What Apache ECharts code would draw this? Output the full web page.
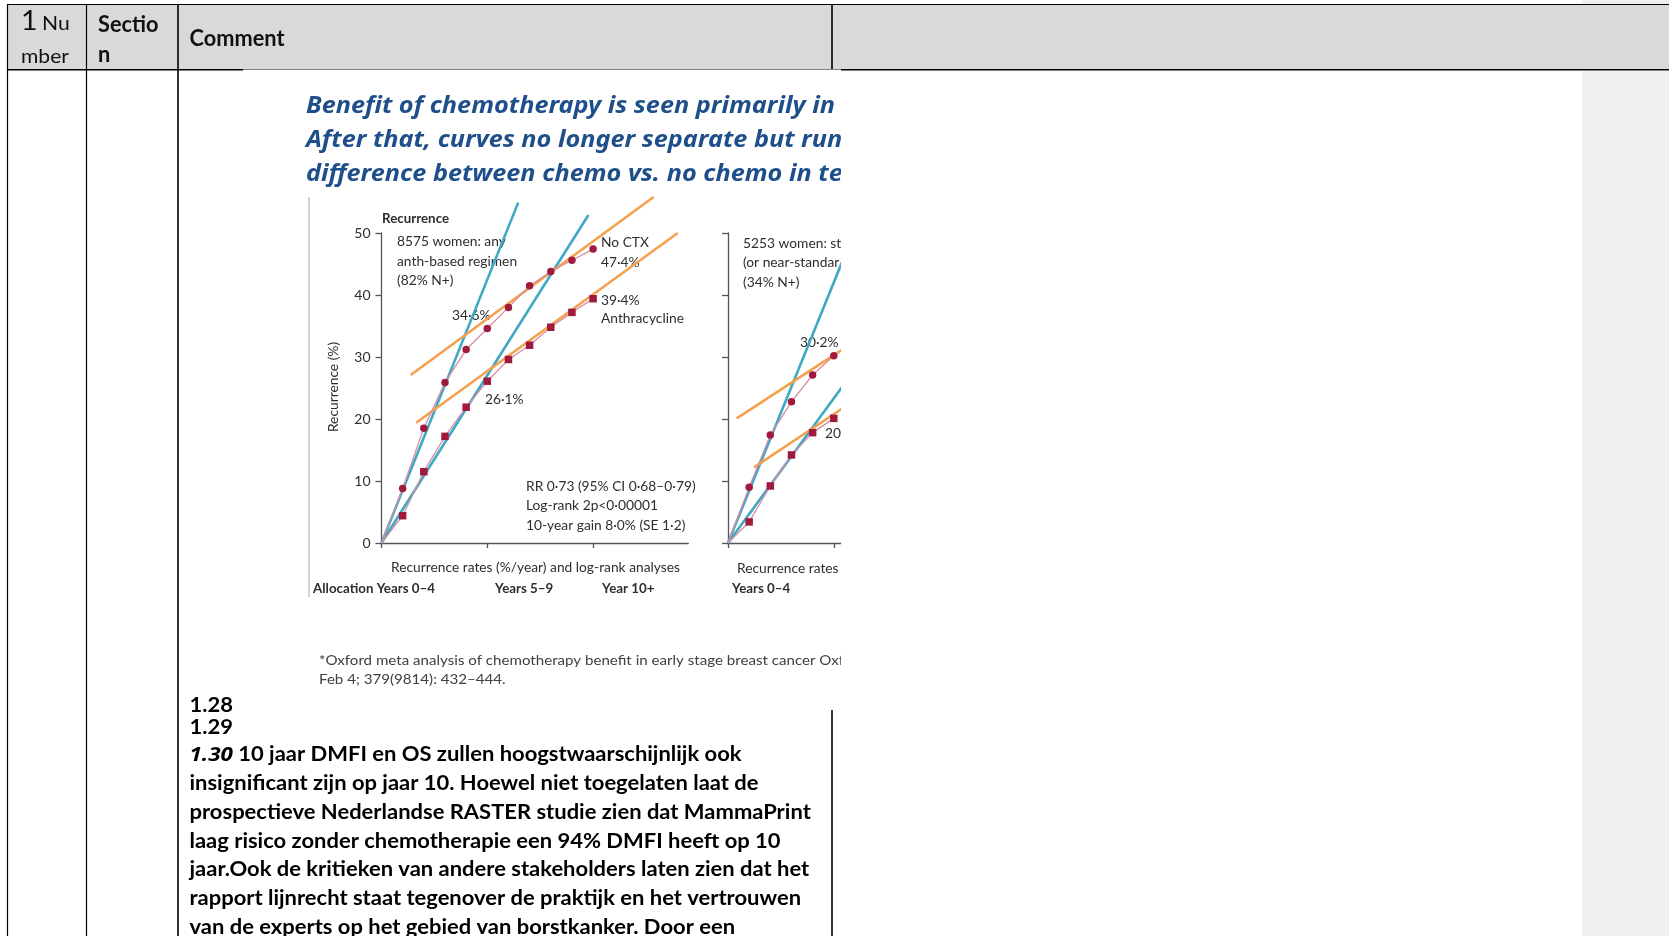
<!DOCTYPE html>
<html>
<head>
<meta charset="utf-8">
<script src="https://cdn.jsdelivr.net/npm/echarts@6/dist/echarts.min.js"></script>
<style>
  html, body { margin: 0; padding: 0; background: #ffffff; }
  #chart { width: 1669px; height: 936px; }
</style>
</head>
<body>
<div id="chart"></div>
<script>
// ---------------- data ----------------
// Recurrence (%) by year since allocation, any anthracycline-based regimen (8575 women)
const years = [0, 1, 2, 3, 4, 5, 6, 7, 8, 9, 10];
const noChemoRecurrence = [0, 8.8, 18.5, 25.9, 31.2, 34.6, 38.0, 41.5, 43.8, 45.6, 47.4];
const anthraRecurrence  = [0, 4.4, 11.5, 17.2, 21.9, 26.1, 29.6, 31.9, 34.8, 37.2, 39.4];

// Standard regimen panel (5253 women), visible part
const stdYears = [0, 1, 2, 3, 4, 5];
const stdNoChemoRecurrence = [0, 9.0, 17.4, 22.8, 27.1, 30.2];
const stdChemoRecurrence   = [0, 3.4, 9.2, 14.2, 17.8, 20.1];

// Rate lines [year, recurrence %]
const rateNoChemoEarly   = [[0, 0], [6.46, 54.9]];
const rateAnthraEarly    = [[0, 0], [9.78, 52.9]];
const rateNoChemoLate    = [[1.38, 27.1], [12.86, 55.8]];
const rateAnthraLate     = [[1.64, 19.4], [14.0, 50.0]];
const stdRateNoChemoEarly = [[0, 0], [5.4, 45.4]];
const stdRateChemoEarly   = [[0, 0], [5.4, 25.2]];
const stdRateNoChemoLate  = [[0.41, 20.1], [5.4, 31.2]];
const stdRateChemoLate    = [[1.23, 12.2], [5.4, 21.7]];

const xTickYears = [0, 5, 10];
const stdXTickYears = [0, 5];

// ---------------- texts ----------------
const headerNumber = ['1', 'Nu', 'mber'];
const headerSection = ['Sectio', 'n'];
const headerComment = 'Comment';
const titleLines = [
  'Benefit of chemotherapy is seen primarily in',
  'After that, curves no longer separate but run',
  'difference between chemo vs. no chemo in te'
];
const panelLabel = 'Recurrence';
const axisTitle = 'Recurrence (%)';
const cohortLines = ['8575 women: any', 'anth-based regimen', '(82% N+)'];
const stdCohortLines = ['5253 women: st', '(or near-standar', '(34% N+)'];
const noChemoLabel = ['No CTX', '47·4%'];
const anthraLabel = ['39·4%', 'Anthracycline'];
const midLabels = ['34·6%', '26·1%'];
const stdMidLabels = ['30·2%', '20·'];
const statsLines = ['RR 0·73 (95% CI 0·68–0·79)', 'Log-rank 2p<0·00001', '10-year gain 8·0% (SE 1·2)'];
const rateCaption = 'Recurrence rates (%/year) and log-rank analyses';
const stdRateCaption = 'Recurrence rates (';
const periodLabels = ['Allocation Years 0–4', 'Years 5–9', 'Year 10+'];
const stdPeriodLabel = 'Years 0–4';
const footnoteLines = [
  '*Oxford meta analysis of chemotherapy benefit in early stage breast cancer Oxf',
  'Feb 4; 379(9814): 432–444.'
];
const itemNumbers = ['1.28', '1.29', '1.30'];
const bodyLines = [
  ' 10 jaar DMFI en OS zullen hoogstwaarschijnlijk ook',
  'insignificant zijn op jaar 10. Hoewel niet toegelaten laat de',
  'prospectieve Nederlandse RASTER studie zien dat MammaPrint',
  'laag risico zonder chemotherapie een 94% DMFI heeft op 10',
  'jaar.Ook de kritieken van andere stakeholders laten zien dat het',
  'rapport lijnrecht staat tegenover de praktijk en het vertrouwen',
  'van de experts op het gebied van borstkanker. Door een'
];

// ---------------- fonts ----------------
const FAMILY = "Lato, 'Open Sans', sans-serif";
const ITALIC_FAMILY = "'Noto Sans', 'Liberation Sans', sans-serif";
const measureCtx = document.createElement('canvas').getContext('2d');
function textWidth(str, font) { measureCtx.font = font; return measureCtx.measureText(str).width; }
// font with a horizontal squeeze so a sample string spans a given width
function fittedFont(style, weight, size, sample, width, family) {
  const font = style + ' ' + weight + ' ' + size + 'px ' + (family || FAMILY);
  return { font: font, sx: width / textWidth(sample, font), size: size, weight: weight, style: style };
}
const fTitle   = fittedFont('italic', 'bold', 23, titleLines[0], 529, ITALIC_FAMILY);
const fBody    = fittedFont('normal', 'bold', 20, itemNumbers[2] + bodyLines[0], 552);
const fBodyIt  = fittedFont('italic', 'bold', 20, itemNumbers[2], textWidth(itemNumbers[2], fBody.font) * fBody.sx, ITALIC_FAMILY);
const fHeadB   = fittedFont('normal', 'bold', 23, headerComment, 95);
const fHeadR   = fittedFont('normal', 'normal', 20, headerNumber[2], 48);
const fHeadBig = { font: 'normal normal 27px ' + FAMILY, sx: fHeadR.sx };
const fChart   = fittedFont('normal', 'normal', 14, rateCaption, 289);
const fChartB  = fittedFont('normal', 'bold', 14, periodLabels[0], 122);
const fFoot    = fittedFont('normal', 'normal', 13, footnoteLines[0], 525);

function txt(x, y, str, f, color, z, extra) {
  const el = {
    type: 'text', x: x, y: y, scaleX: f.sx, z: z, silent: true,
    style: { text: str, font: f.font, fill: color, align: 'left', verticalAlign: 'middle' }
  };
  return Object.assign(el, extra || {});
}
function rect(x, y, w, h, fill, z) {
  return { type: 'rect', z: z, silent: true, shape: { x: x, y: y, width: w, height: h }, style: { fill: fill } };
}
function seg(x1, y1, x2, y2, color, w, z) {
  return { type: 'line', z: z, silent: true, shape: { x1: x1, y1: y1, x2: x2, y2: y2 }, style: { stroke: color, lineWidth: w } };
}

// ---------------- page layout (table around the figure) ----------------
const W = 1669, H = 936;
const graphics = [];
graphics.push(rect(1582, 0, W - 1582, 4, '#f0f0f0', 0));
graphics.push(rect(7.5, 4.5, W - 7.5, 65, '#d9d9d9', 0));
graphics.push(rect(1582, 71, W - 1582, H - 71, '#f0f0f0', 0));
graphics.push(seg(7, 4.5, W, 4.5, '#000', 1.2, 1));
graphics.push(seg(7, 69.8, W, 69.8, '#000', 1.6, 1));
graphics.push(seg(7.5, 4, 7.5, H, '#000', 1.2, 1));
graphics.push(seg(86.5, 4, 86.5, H, '#000', 1.2, 1));
graphics.push(seg(178, 4, 178, H, '#000', 1.6, 1));
graphics.push(seg(832, 4, 832, 70, '#000', 1.6, 1));
graphics.push(seg(832, 710, 832, H, '#000', 1.6, 1));

// header cells
graphics.push(txt(21, 21.5, headerNumber[0], fHeadBig, '#111', 2));
graphics.push(txt(42, 23.5, headerNumber[1], fHeadR, '#111', 2));
graphics.push(txt(21, 56.5, headerNumber[2], fHeadR, '#111', 2));
graphics.push(txt(98, 24.5, headerSection[0], fHeadB, '#111', 2));
graphics.push(txt(98, 55, headerSection[1], fHeadB, '#111', 2));
graphics.push(txt(189.5, 39, headerComment, fHeadB, '#111', 2));

// figure background
graphics.push(rect(243, 69.5, 841 - 243, 710 - 69.5, '#ffffff', 2));
graphics.push(seg(309, 197, 309, 597, '#a8a8a8', 1, 3));

// figure title
const titleY = [106, 140, 174.5];
titleLines.forEach(function (t, i) { graphics.push(txt(306, titleY[i], t, fTitle, '#1f4f8b', 4)); });

// panel texts
const cText = '#2e2e2e';
graphics.push(txt(382, 218, panelLabel, fChartB, cText, 4));
graphics.push(txt(333, 387, axisTitle, fChart, cText, 4, { rotation: Math.PI / 2, style: { text: axisTitle, font: fChart.font, fill: cText, align: 'center', verticalAlign: 'middle' } }));
cohortLines.forEach(function (t, i) { graphics.push(txt(397, 241.5 + i * 19.7, t, fChart, cText, 4)); });
graphics.push(txt(601, 242.5, noChemoLabel[0], fChart, cText, 4));
graphics.push(txt(601, 262.5, noChemoLabel[1], fChart, cText, 4));
graphics.push(txt(601, 300, anthraLabel[0], fChart, cText, 4));
graphics.push(txt(601, 318.5, anthraLabel[1], fChart, cText, 4));
graphics.push(txt(452, 315, midLabels[0], fChart, cText, 4));
graphics.push(txt(485, 399, midLabels[1], fChart, cText, 4));
statsLines.forEach(function (t, i) { graphics.push(txt(526, 486 + i * 19.5, t, fChart, cText, 4)); });
graphics.push(txt(391, 567, rateCaption, fChart, cText, 4));
graphics.push(txt(313, 588, periodLabels[0], fChartB, cText, 4));
graphics.push(txt(495, 588, periodLabels[1], fChartB, cText, 4));
graphics.push(txt(602, 588, periodLabels[2], fChartB, cText, 4));
stdCohortLines.forEach(function (t, i) { graphics.push(txt(743, 243 + i * 19.5, t, fChart, cText, 4)); });
graphics.push(txt(800, 342, stdMidLabels[0], fChart, cText, 4));
graphics.push(txt(825, 433, stdMidLabels[1], fChart, cText, 4));
graphics.push(txt(737, 568, stdRateCaption, fChart, cText, 4));
graphics.push(txt(732, 588, stdPeriodLabel, fChartB, cText, 4));

// footnote
footnoteLines.forEach(function (t, i) { graphics.push(txt(319, 661 + i * 19, t, fFoot, '#404040', 4)); });

// figure's right edge
graphics.push(rect(841, 71, 1581 - 841, 710 - 71, '#ffffff', 20));

// comment text
const bodyX = 189.5;
graphics.push(txt(bodyX, 705.5, itemNumbers[0], fBody, '#000', 21));
graphics.push(txt(bodyX, 727.5, itemNumbers[1], fBody, '#000', 21));
const bodyY0 = 755, bodyStep = 28.75;
// the item number that opens the paragraph is set in bold italic
const itemNoWidth = textWidth(itemNumbers[2], fBodyIt.font) * fBodyIt.sx;
graphics.push(txt(bodyX, bodyY0, itemNumbers[2], fBodyIt, '#000', 21));
bodyLines.forEach(function (t, i) {
  graphics.push(txt(i === 0 ? bodyX + itemNoWidth : bodyX, bodyY0 + i * bodyStep, t, fBody, '#000', 21));
});

// ---------------- chart ----------------
const axisColor = '#555555';
const teal = '#3fa9c5';
const orange = '#f4a04c';
const markerRed = '#a01a3e';
const pink = '#d98da2';

function axisCommon(extra) {
  return Object.assign({
    type: 'value', z: 3, silent: true,
    axisLine: { show: true, onZero: false, lineStyle: { color: axisColor, width: 1.3 } },
    splitLine: { show: false }
  }, extra);
}
function rateLine(points, color, idx) {
  return {
    type: 'line', xAxisIndex: idx, yAxisIndex: idx, data: points, symbol: 'none',
    lineStyle: { color: color, width: 2.6 }, clip: idx === 1, z: 6, silent: true, animation: false
  };
}
function recurrenceLine(xs, ys, shape, idx) {
  return {
    type: 'line', xAxisIndex: idx, yAxisIndex: idx,
    data: xs.map(function (x, i) { return [x, ys[i]]; }),
    symbol: function (v, p) { return p.dataIndex === 0 ? 'none' : shape; },
    symbolSize: 7.5, showAllSymbol: true,
    itemStyle: { color: markerRed },
    lineStyle: { color: pink, width: 1.3 },
    clip: idx === 1, z: 7, silent: true, animation: false
  };
}

const option = {
  animation: false,
  backgroundColor: '#ffffff',
  grid: [
    { left: 381.5, top: 233, width: 14.5 * 21.16, height: 310, outerBoundsMode: 'none', containLabel: false },
    { left: 728, top: 233, width: 113, height: 310, outerBoundsMode: 'none', containLabel: false }
  ],
  xAxis: [
    axisCommon({ gridIndex: 0, min: 0, max: 14.5, interval: 5,
      axisTick: { show: true, length: 5, customValues: xTickYears, lineStyle: { color: axisColor, width: 1.3 } },
      axisLabel: { show: false } }),
    axisCommon({ gridIndex: 1, min: 0, max: 113 / 21.16, interval: 5,
      axisTick: { show: true, length: 5, customValues: stdXTickYears, lineStyle: { color: axisColor, width: 1.3 } },
      axisLabel: { show: false } })
  ],
  yAxis: [
    axisCommon({ gridIndex: 0, min: 0, max: 50, interval: 10,
      axisTick: { show: true, length: 6, lineStyle: { color: axisColor, width: 1.3 } },
      axisLabel: { show: true, margin: 11, fontFamily: FAMILY, fontSize: 14, color: cText } }),
    axisCommon({ gridIndex: 1, min: 0, max: 50, interval: 10,
      axisTick: { show: true, length: 6, lineStyle: { color: axisColor, width: 1.3 } },
      axisLabel: { show: false } })
  ],
  series: [
    recurrenceLine(years, noChemoRecurrence, 'circle', 0),
    recurrenceLine(years, anthraRecurrence, 'rect', 0),
    rateLine(rateNoChemoEarly, teal, 0),
    rateLine(rateAnthraEarly, teal, 0),
    rateLine(rateNoChemoLate, orange, 0),
    rateLine(rateAnthraLate, orange, 0),
    recurrenceLine(stdYears, stdNoChemoRecurrence, 'circle', 1),
    recurrenceLine(stdYears, stdChemoRecurrence, 'rect', 1),
    rateLine(stdRateNoChemoEarly, teal, 1),
    rateLine(stdRateChemoEarly, teal, 1),
    rateLine(stdRateNoChemoLate, orange, 1),
    rateLine(stdRateChemoLate, orange, 1)
  ],
  graphic: { elements: graphics }
};

const chart = echarts.init(document.getElementById('chart'), null, { renderer: 'canvas', width: W, height: H });
chart.setOption(option);
</script>
</body>
</html>
